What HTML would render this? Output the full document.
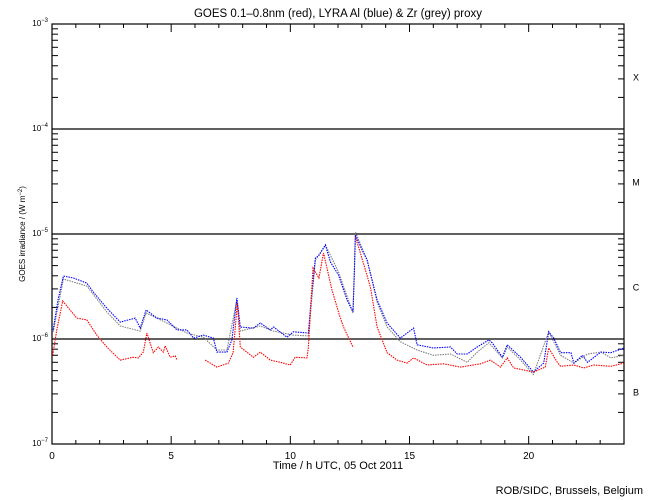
<!DOCTYPE html>
<html><head><meta charset="utf-8"><style>
html,body{margin:0;padding:0;background:#fff}
svg{display:block;font-family:"Liberation Sans",sans-serif}
</style></head><body>
<svg id="chart" width="650" height="500" viewBox="0 0 650 500" xmlns="http://www.w3.org/2000/svg">
<text x="338" y="17" font-size="11.5" text-anchor="middle">GOES 0.1–0.8nm (red), LYRA Al (blue) &amp; Zr (grey) proxy</text>
<text transform="translate(25,234) rotate(-90)" font-size="8" text-anchor="middle">GOES irradiance / (W m<tspan font-size="6" dy="-3">−2</tspan><tspan dy="3">)</tspan></text>
<text x="338" y="469" font-size="11" text-anchor="middle">Time / h UTC, 05 Oct 2011</text>
<text x="643" y="494" font-size="11" text-anchor="end">ROB/SIDC, Brussels, Belgium</text>
<g id="axes"></g>
<g id="series"></g>
</svg>
<script>
const classLabels = ["X","M","C","B"];
const yTickExps = [-3,-4,-5,-6,-7];
const xTickLabels = [0,5,10,15,20];
const blueHours = [0.05,0.25,0.48,0.9,1.46,1.73,2.3,2.86,3.49,3.7,3.95,4.4,4.82,5.24,5.66,5.94,6.35,6.77,6.92,7.34,7.55,7.76,7.9,8.45,8.74,9.16,9.3,9.86,10.13,10.76,10.87,11.05,11.18,11.47,11.68,12.02,12.38,12.63,12.69,12.73,13.01,13.22,13.64,14.06,14.62,15.17,15.32,16.0,16.72,17.0,17.42,17.84,18.33,18.47,18.9,19.1,19.66,20.2,20.63,20.84,21.05,21.34,21.77,21.9,22.26,22.47,23.03,23.45,24.0];
const blueValues = [1.22,2.35,3.98,3.81,3.41,2.80,1.97,1.45,1.58,1.27,1.89,1.58,1.52,1.22,1.22,1.02,1.09,1.02,0.75,0.75,0.98,2.46,1.30,1.27,1.42,1.22,1.30,1.04,1.17,1.14,2.35,5.91,6.17,7.85,5.41,4.07,2.35,1.81,4.35,9.78,7.04,5.65,2.35,1.42,1.02,1.27,0.88,0.82,0.84,0.72,0.72,0.84,0.98,0.92,0.67,0.88,0.67,0.485,0.59,1.17,1.02,0.74,0.74,0.59,0.70,0.60,0.75,0.74,0.82];
const greyHours = [0.05,0.48,1.46,2.3,2.86,3.7,3.95,4.82,5.66,6.35,6.92,7.34,7.76,7.9,8.74,9.3,10.13,10.76,11.05,11.47,12.02,12.63,12.73,13.22,13.64,14.06,14.62,15.32,16.0,16.72,17.42,17.84,18.33,18.9,19.1,19.66,20.2,20.84,21.34,21.9,22.47,23.03,23.45,24.0];
const greyValues = [1.17,3.73,3.20,1.81,1.33,1.19,1.77,1.42,1.14,1.04,0.785,0.785,2.35,1.19,1.33,1.19,1.09,1.07,5.65,7.85,4.35,1.77,10.45,5.65,2.25,1.30,0.94,0.785,0.70,0.72,0.60,0.75,0.92,0.66,0.84,0.63,0.46,1.17,0.70,0.59,0.72,0.75,0.66,0.70];
const redHours = [0.03,0.2,0.45,0.76,1.04,1.46,1.88,2.3,2.86,3.4,3.62,3.83,3.98,4.25,4.46,4.67,4.75,4.96,5.17,5.25,null,6.43,6.92,7.4,7.6,7.78,7.9,8.45,8.74,9.16,9.58,10.0,10.2,10.7,10.76,10.95,11.2,11.39,11.75,12.06,12.23,12.63,null,12.73,12.94,13.36,13.64,14.06,14.48,14.9,15.17,15.74,16.43,17.14,17.98,18.4,18.82,19.1,19.37,20.2,20.7,20.84,21.2,21.34,21.9,22.3,22.73,23.45,24.0];
const redValues = [0.70,1.22,2.30,1.89,1.58,1.52,1.09,0.84,0.63,0.67,0.66,0.75,1.14,0.74,0.84,0.75,0.86,0.67,0.69,0.63,null,0.63,0.54,0.59,0.74,2.20,0.84,0.67,0.75,0.63,0.60,0.565,0.67,0.66,0.84,4.74,3.81,6.59,2.93,1.69,1.30,0.84,null,9.36,6.59,3.13,1.30,0.74,0.63,0.59,0.66,0.565,0.58,0.54,0.58,0.63,0.54,0.66,0.53,0.485,0.54,0.82,0.60,0.55,0.565,0.53,0.565,0.55,0.59];

const NS="http://www.w3.org/2000/svg";
const L=52,R=624,T=24,B=444;
function xs(h){return L+(R-L)*h/24;}
function ys(v){return B-(Math.log10(v)+7)*(B-T)/4;}
function el(tag,attrs,parent){const e=document.createElementNS(NS,tag);for(const k in attrs)e.setAttribute(k,attrs[k]);parent.appendChild(e);return e;}
const axes=document.getElementById('axes');
const frame=el('rect',{x:L,y:T,width:R-L,height:B-T,fill:'none',stroke:'#000','stroke-width':1.2},axes);


for(let d=-7;d<-3;d++){for(let m=2;m<=9;m++){const y=ys(m*Math.pow(10,d));
 const t1=el('line',{x1:L,x2:L+6,y1:y,y2:y,stroke:'#000'},axes);
 
 
 const t2=el('line',{x1:R-6,x2:R,y1:y,y2:y,stroke:'#000'},axes);
 
 }}
yTickExps.forEach(e=>{const y=ys(Math.pow(10,e));
 if(e>-7&&e<-3){const g=el('line',{x1:L,x2:R,y1:y,y2:y,stroke:'#000','stroke-width':1.2},axes);
 
 }
 const t=el('text',{x:48,y:y+2,'font-size':8,'text-anchor':'end'},axes);
 
 
 t.innerHTML='10<tspan font-size="6" dy="-4">−'+(-e)+'</tspan>';});
classLabels.forEach((c,i)=>{const y=(ys(Math.pow(10,-3-i))+ys(Math.pow(10,-4-i)))/2;
 const t=el('text',{x:636,y:y+4,'font-size':9,'text-anchor':'middle'},axes);
 
 
 t.textContent=c;});
for(let h=0;h<=24;h++){const x=xs(h);const len=(h%5===0)?8:4;
 const a=el('line',{x1:x,x2:x,y1:B,y2:B-len,stroke:'#000'},axes);
 
 
 const b=el('line',{x1:x,x2:x,y1:T,y2:T+len,stroke:'#000'},axes);
 
 }
xTickLabels.forEach(h=>{const t=el('text',{x:xs(h),y:459,'font-size':10,'text-anchor':'middle'},axes);
 
 
 t.textContent=h;});
const series=document.getElementById('series');
function draw(hours,vals,color,name){let d='',pen=false;
 for(let i=0;i<hours.length;i++){if(hours[i]===null){pen=false;continue;}
  d+=(pen?'L':'M')+xs(hours[i]).toFixed(1)+' '+ys(vals[i]*1e-6).toFixed(1)+' ';pen=true;}
 const p=el('path',{d:d,fill:'none',stroke:color,'stroke-width':1.1,'stroke-dasharray':'1.5 1'},series);
 
 }
draw(greyHours,greyValues,'#808080','lyra-zr-series');
draw(blueHours,blueValues,'#0000ff','lyra-al-series');
draw(redHours,redValues,'#ff0000','goes-series');
</script>
</body></html>
